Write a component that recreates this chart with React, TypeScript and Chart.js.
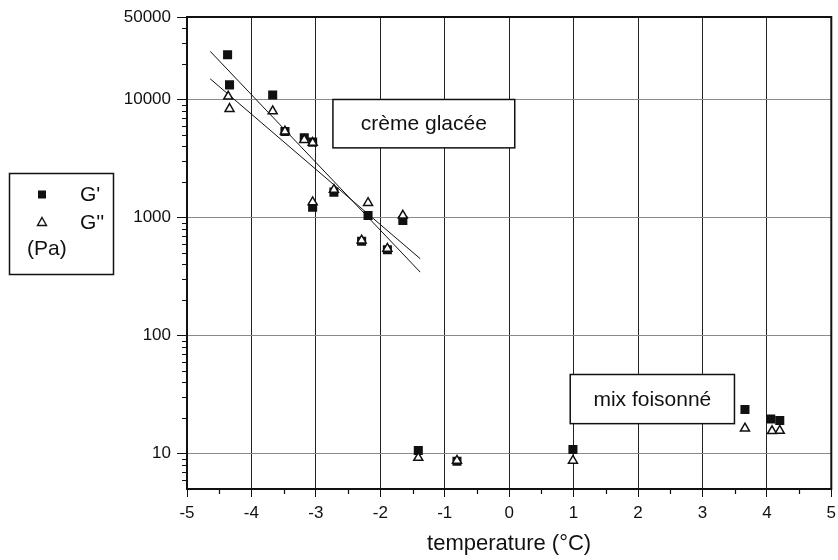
import React, { useEffect, useRef } from "react";
import { Chart, registerables } from "chart.js";

Chart.register(...registerables);

// ---- data ----
const gPrimeX = [-4.37, -4.34, -3.67, -3.48, -3.18, -3.05, -3.05, -2.72, -2.29, -2.19, -1.89, -1.65, -1.41, -0.81, 0.99, 3.66, 4.06, 4.2];
const gPrimeY = [23900, 13300, 10900, 5360, 4730, 4350, 1220, 1640, 630, 1040, 532, 944, 10.6, 8.6, 10.8, 23.6, 19.6, 19.0];
const gSecondX = [-4.36, -4.34, -3.67, -3.48, -3.18, -3.05, -3.05, -2.72, -2.29, -2.19, -1.89, -1.65, -1.41, -0.81, 0.99, 3.66, 4.08, 4.2];
const gSecondY = [10600, 8340, 7960, 5360, 4550, 4300, 1350, 1720, 640, 1330, 545, 1040, 9.2, 8.7, 8.7, 16.3, 15.5, 15.6];
// fitted lines (endpoints)
const fitPrimeX = [-4.64, -1.38];
const fitPrimeY = [25600, 344];
const fitSecondX = [-4.64, -1.38];
const fitSecondY = [14970, 447];
// axis ticks
const xTicks = [-5, -4, -3, -2, -1, 0, 1, 2, 3, 4, 5];
const yTicks = [10, 100, 1000, 10000, 50000];
// annotation labels: text, x-range, y-range (data coords)
const annotTexts = ["crème glacée", "mix foisonné"];
const annotX = [[-2.735, 0.087], [0.948, 3.497]];
const annotY = [[10000, 3890], [46.7, 17.9]];
const legendLabels = ["G'", "G''", "(Pa)"];

const FONT = "'Liberation Sans', Arial, Helvetica, sans-serif";

const toPts = (xs: number[], ys: number[]) => xs.map((x, i) => ({ x, y: ys[i] }));

const framePlugin = {
  id: "framePlugin",
  beforeDatasetsDraw(chart: any) {
    const { ctx, scales } = chart;
    const xs = scales.x, ys = scales.y;
    ctx.save();
    annotTexts.forEach((t, i) => {
      const l = xs.getPixelForValue(annotX[i][0]);
      const r = xs.getPixelForValue(annotX[i][1]);
      const tp = ys.getPixelForValue(annotY[i][0]);
      const bt = ys.getPixelForValue(annotY[i][1]);
      ctx.fillStyle = "#fff";
      ctx.fillRect(l, tp, r - l, bt - tp);
      ctx.strokeStyle = "#111";
      ctx.lineWidth = 1.5;
      ctx.strokeRect(l, tp, r - l, bt - tp);
      ctx.fillStyle = "#111";
      ctx.font = `21px ${FONT}`;
      ctx.textAlign = "center";
      ctx.textBaseline = "middle";
      ctx.fillText(t, (l + r) / 2, (tp + bt) / 2 + 1);
    });
    ctx.restore();
  },
  afterDraw(chart: any) {
    const { ctx, chartArea, scales } = chart;
    const xs = scales.x, ys = scales.y;
    ctx.save();
    ctx.strokeStyle = "#111";
    ctx.lineWidth = 2;
    ctx.strokeRect(chartArea.left, chartArea.top, chartArea.right - chartArea.left, chartArea.bottom - chartArea.top);
    // minor y ticks
    ctx.lineWidth = 1.2;
    ctx.beginPath();
    for (let k = 0; k <= 4; k++) {
      for (let m = 2; m <= 9; m++) {
        const v = m * Math.pow(10, k);
        if (v <= 5 || v >= 50000) continue;
        const py = Math.round(ys.getPixelForValue(v)) + 0.5;
        ctx.moveTo(chartArea.left - 5, py);
        ctx.lineTo(chartArea.left, py);
      }
    }
    // minor x ticks
    for (let i = 0; i < xTicks.length - 1; i++) {
      const px = Math.round(xs.getPixelForValue((xTicks[i] + xTicks[i + 1]) / 2)) + 0.5;
      ctx.moveTo(px, chartArea.bottom);
      ctx.lineTo(px, chartArea.bottom + 5);
    }
    ctx.stroke();

    // legend box
    ctx.lineWidth = 1.5;
    ctx.strokeRect(9.5, 173.5, 104, 101);
    ctx.fillStyle = "#111";
    ctx.fillRect(38, 190.5, 8, 8);
    ctx.beginPath();
    ctx.moveTo(42, 217.5);
    ctx.lineTo(46.5, 225.5);
    ctx.lineTo(37.5, 225.5);
    ctx.closePath();
    ctx.lineWidth = 1.4;
    ctx.stroke();
    ctx.font = `21px ${FONT}`;
    ctx.textAlign = "left";
    ctx.textBaseline = "middle";
    ctx.fillText(legendLabels[0], 80, 195);
    ctx.fillText(legendLabels[1], 80, 223);
    ctx.fillText(legendLabels[2], 27, 249);
    ctx.restore();
  },
};

export default function App() {
  const ref = useRef<HTMLCanvasElement | null>(null);
  useEffect(() => {
    document.body.style.margin = "0";
    const canvas = ref.current!;
    const chart = new Chart(canvas, {
      type: "scatter",
      data: {
        datasets: [
          {
            label: "G''",
            data: toPts(gSecondX, gSecondY),
            pointStyle: "triangle",
            pointRadius: 5.2,
            backgroundColor: "#fff",
            borderColor: "#111",
            borderWidth: 1.5,
            order: 0,
          },
          {
            label: "G'",
            data: toPts(gPrimeX, gPrimeY),
            pointStyle: "rect",
            pointRadius: 6.4,
            backgroundColor: "#111",
            borderColor: "#111",
            borderWidth: 0,
            order: 1,
          },
          {
            label: "fit G'",
            data: toPts(fitPrimeX, fitPrimeY),
            showLine: true,
            pointRadius: 0,
            borderColor: "#111",
            borderWidth: 1,
            order: 2,
          },
          {
            label: "fit G''",
            data: toPts(fitSecondX, fitSecondY),
            showLine: true,
            pointRadius: 0,
            borderColor: "#111",
            borderWidth: 1,
            order: 2,
          },
        ],
      },
      options: {
        animation: false,
        responsive: false,
        layout: { padding: { top: 17, right: 5, left: 0, bottom: 0 } },
        plugins: { legend: { display: false }, tooltip: { enabled: false } },
        scales: {
          x: {
            type: "linear",
            min: -5,
            max: 5,
            afterBuildTicks: (s: any) => {
              s.ticks = xTicks.map((v) => ({ value: v }));
            },
            afterFit: (s: any) => {
              s.height = 71;
              s.paddingLeft = 0;
              s.paddingRight = 0;
            },
            ticks: {
              font: { family: FONT, size: 17 },
              color: "#111",
              padding: 6,
              maxRotation: 0,
              callback: (v: any) => String(v),
            },
            grid: {
              color: "#222",
              lineWidth: 1,
              tickLength: 8,
              tickColor: "#111",
            },
            border: { display: true, color: "#111", width: 2 },
            title: {
              display: true,
              text: "temperature (°C)",
              font: { family: FONT, size: 22 },
              color: "#111",
              padding: { top: 0, bottom: 3 },
            },
          },
          y: {
            type: "logarithmic",
            min: 5,
            max: 50000,
            afterBuildTicks: (s: any) => {
              s.ticks = yTicks.map((v) => ({ value: v }));
            },
            afterFit: (s: any) => {
              s.width = 187;
              s.paddingTop = 0;
              s.paddingBottom = 0;
            },
            ticks: {
              font: { family: FONT, size: 17 },
              color: "#111",
              padding: 6,
              callback: (v: any) => String(v),
            },
            grid: {
              color: "#8a8a8a",
              lineWidth: 1,
              tickLength: 10,
              tickColor: "#111",
            },
            border: { display: true, color: "#111", width: 2 },
          },
        },
      },
      plugins: [framePlugin],
    } as any);
    return () => chart.destroy();
  }, []);
  return (
    <div style={{ position: "absolute", left: 0, top: 0, width: 838, height: 560, background: "#fff" }}>
      <canvas ref={ref} width={838} height={560} />
    </div>
  );
}
